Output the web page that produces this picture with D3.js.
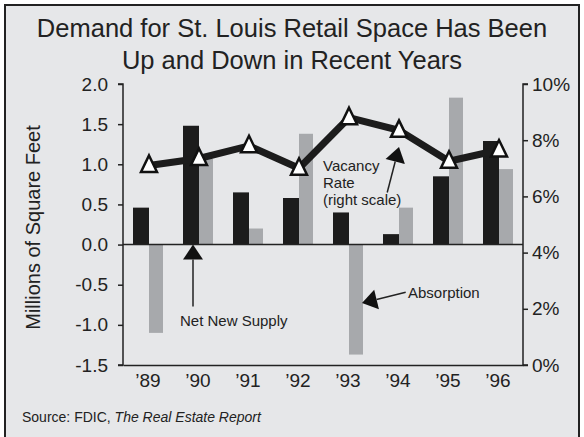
<!DOCTYPE html>
<html>
<head>
<meta charset="utf-8">
<script src="https://cdn.jsdelivr.net/npm/d3@7"></script>
<style>
  html, body { margin:0; padding:0; background:#fff; }
  svg { display:block; font-family:"Liberation Sans", Arial, Helvetica, sans-serif; }
</style>
</head>
<body>
<div id="chart"></div>
<script>
// data
const years = ["'89","'90","'91","'92","'93","'94","'95","'96"];
const netNewSupply = [0.46, 1.48, 0.65, 0.58, 0.40, 0.13, 0.85, 1.29];
const absorption = [-1.10, 1.07, 0.20, 1.38, -1.37, 0.46, 1.83, 0.94];
const vacancyRate = [7.1, 7.35, 7.8, 7.0, 8.8, 8.35, 7.25, 7.65];
const leftTicks = [2.0, 1.5, 1.0, 0.5, 0.0, -0.5, -1.0, -1.5];
const rightTicks = [0, 2, 4, 6, 8, 10];

const W = 584, H = 437;
const m = {l:123, r:523, t:84, b:365};
const ink = '#222';

const svg = d3.select('#chart').append('svg').attr('width', W).attr('height', H);

// frame
svg.append('rect').attr('x',5).attr('y',5).attr('width',574).attr('height',445)
  .attr('fill','#e6e7e9').attr('stroke',ink).attr('stroke-width',2);

// title
const title = svg.append('text').attr('text-anchor','middle').attr('fill',ink)
  .attr('font-size',25.5);
title.append('tspan').attr('x',292).attr('y',37).text('Demand for St. Louis Retail Space Has Been');
title.append('tspan').attr('x',292).attr('y',69).text('Up and Down in Recent Years');

// scales
const x = d3.scaleBand().domain(years).range([m.l, m.r]);
const yL = d3.scaleLinear().domain([-1.5, 2]).range([m.b, m.t]);
const yR = d3.scaleLinear().domain([0, 10]).range([m.b, m.t]);

// bars
svg.selectAll('.supply').data(netNewSupply).enter().append('rect')
  .attr('x',(d,i)=>x(years[i])+10)
  .attr('width',16)
  .attr('y',d=>yL(Math.max(0,d)))
  .attr('height',d=>Math.abs(yL(d)-yL(0)))
  .attr('fill','#1c1c1c');
svg.selectAll('.absorb').data(absorption).enter().append('rect')
  .attr('x',(d,i)=>x(years[i])+26)
  .attr('width',14)
  .attr('y',d=>yL(Math.max(0,d)))
  .attr('height',d=>Math.abs(yL(d)-yL(0)))
  .attr('fill','#a7a9ac');

// axes
const axL = svg.append('g').attr('transform',`translate(${m.l},0)`)
  .call(d3.axisLeft(yL).tickValues(leftTicks).tickSize(5).tickPadding(10).tickFormat(d3.format('.1f')));
const axR = svg.append('g').attr('transform',`translate(${m.r},0)`)
  .call(d3.axisRight(yR).tickValues(rightTicks).tickSize(5).tickPadding(4).tickFormat(d=>d+'%'));
[axL, axR].forEach(g=>{
  g.select('.domain').attr('d', g===axL ? `M-5,${m.t}H0V${m.b}H-5` : `M5,${m.t}H0V${m.b}H5`)
    .attr('stroke',ink).attr('stroke-width',1.5);
  g.selectAll('.tick line').attr('stroke',ink).attr('stroke-width',1.5);
  g.selectAll('.tick text').attr('fill',ink).attr('font-size',19)
    .attr('font-family','"Liberation Sans", Arial, Helvetica, sans-serif');
});
axL.selectAll('.tick text').text(d=>d3.format('.1f')(d).replace('−','-'));

// bottom axis (labels only)
const axB = svg.append('g').attr('transform',`translate(0,${m.b})`)
  .call(d3.axisBottom(x).tickSize(0).tickPadding(9));
axB.select('.domain').attr('stroke',ink).attr('stroke-width',1.5);
axB.selectAll('.tick text').attr('fill',ink).attr('font-size',19)
  .attr('font-family','"Liberation Sans", Arial, Helvetica, sans-serif')
  .text(d=>d.replace("'", '\u2019'));

// zero line
svg.append('line').attr('x1',m.l).attr('x2',m.r).attr('y1',yL(0)).attr('y2',yL(0))
  .attr('stroke',ink).attr('stroke-width',1.5);

// y label
svg.append('text').attr('transform',`translate(40,${(m.t+m.b)/2+3}) rotate(-90)`)
  .attr('text-anchor','middle').attr('font-size',20).attr('fill',ink)
  .text('Millions of Square Feet');

// vacancy line
const px = (d,i)=>x(years[i])+26;
const line = d3.line().x(px).y(d=>yR(d));
svg.append('path').datum(vacancyRate).attr('d',line)
  .attr('fill','none').attr('stroke','#1c1c1c').attr('stroke-width',7).attr('stroke-linejoin','miter');
svg.selectAll('.mk').data(vacancyRate).enter().append('path')
  .attr('d','M0,-10L8,6.5L-8,6.5Z')
  .attr('transform',(d,i)=>`translate(${px(d,i)},${yR(d)})`)
  .attr('fill','#fff').attr('stroke','#111').attr('stroke-width',2.5).attr('stroke-linejoin','miter');

// annotations
const ann = svg.append('g').attr('fill',ink).attr('font-size',15);
function arrow(tip, base, len){
  // tip [x,y], base direction [dx,dy] unit, len of stem
  const [tx,ty] = tip, [ux,uy] = base;
  const hl = 15, hw = 10;
  const bx = tx+ux*hl, by = ty+uy*hl;
  const nx = -uy, ny = ux;
  ann.append('path').attr('d',`M${tx},${ty}L${bx+nx*hw},${by+ny*hw}L${bx-nx*hw},${by-ny*hw}Z`)
    .attr('fill','#111');
  ann.append('line').attr('x1',bx).attr('y1',by).attr('x2',bx+ux*len).attr('y2',by+uy*len)
    .attr('stroke',ink).attr('stroke-width',1.5);
}
// Net New Supply
arrow([x("'90")+20, yL(0)], [0,1], 47);
ann.append('text').attr('x',180).attr('y',326).text('Net New Supply');
// Vacancy
(function(){
  const ang = Math.atan2(201-147, 385-399);
  arrow([399,147], [Math.cos(ang), Math.sin(ang)], 32);
})();
const vt = ann.append('text').attr('x',323);
vt.append('tspan').attr('x',323).attr('y',171).text('Vacancy');
vt.append('tspan').attr('x',323).attr('y',188).text('Rate');
vt.append('tspan').attr('x',323).attr('y',205).text('(right scale)');
// Absorption
(function(){
  const ang = Math.atan2(292-303, 407-362);
  arrow([362,303], [Math.cos(ang), Math.sin(ang)], 30);
})();
ann.append('text').attr('x',408).attr('y',298).text('Absorption');

// source
const src = svg.append('text').attr('x',22).attr('y',422).attr('font-size',14).attr('fill',ink);
src.append('tspan').text('Source: FDIC, ');
src.append('tspan').attr('font-style','italic').text('The Real Estate Report');
</script>
</body>
</html>
